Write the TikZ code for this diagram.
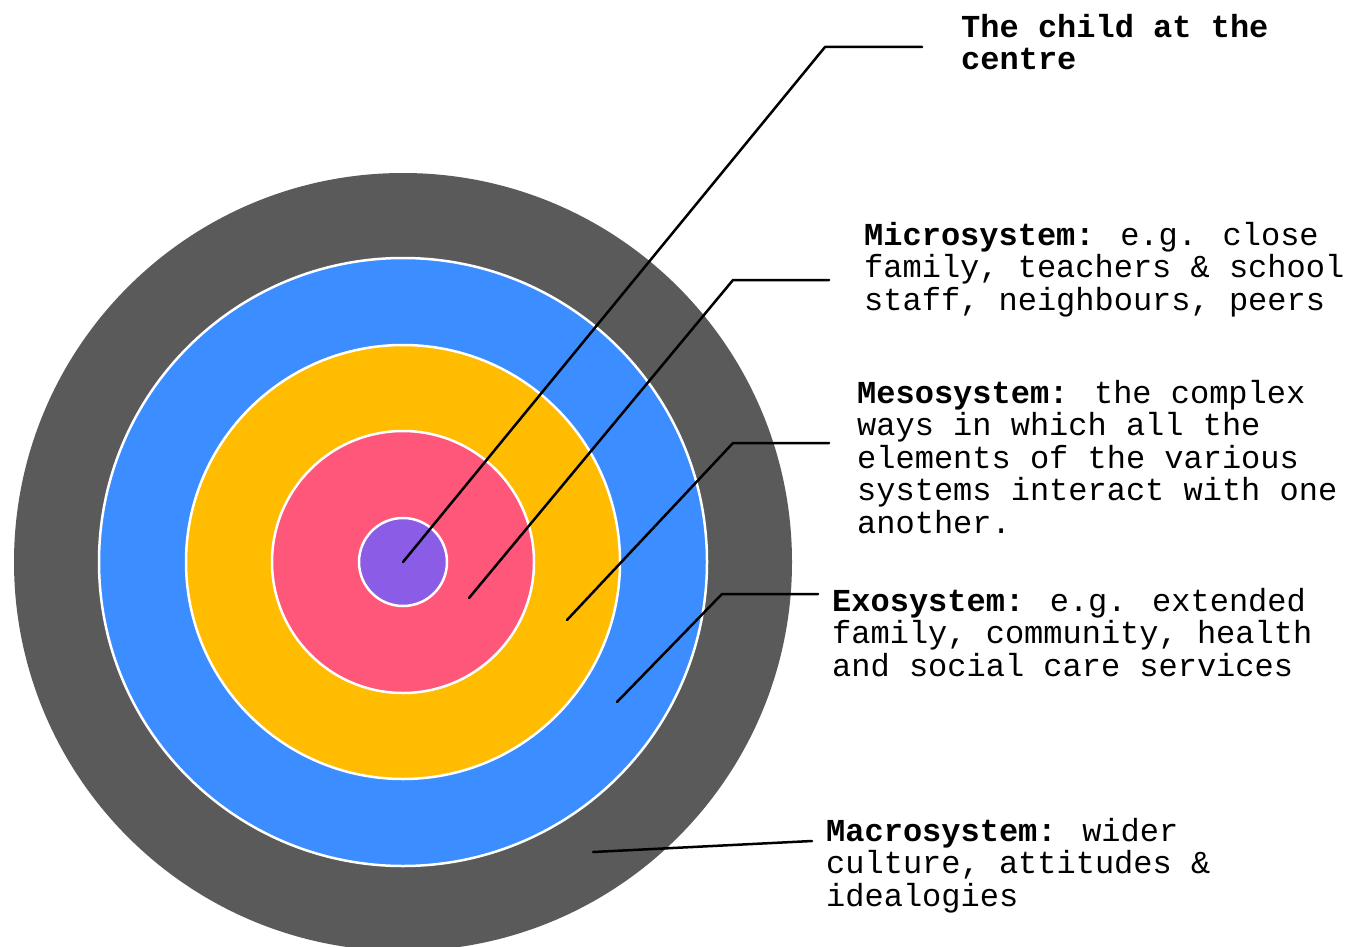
\documentclass[tikz,border=0pt]{standalone}
\usepackage{fontspec}
\newfontfamily\monofont{Liberation Mono}
\definecolor{cgray}{HTML}{5A5A5A}
\definecolor{cblue}{HTML}{3C8DFF}
\definecolor{cyellow}{HTML}{FFBC00}
\definecolor{cpink}{HTML}{FF577A}
\definecolor{cpurple}{HTML}{8B5CE5}
\tikzset{
  ring/.style={circle, draw=white, line width=2.5pt, inner sep=0pt},
  lbl/.style={anchor=base west, align=left, inner sep=0pt,
    font=\fontsize{32}{32.5}\selectfont\monofont},
  leader/.style={line width=2.5pt, line cap=round, line join=round}
}
\begin{document}
\begin{tikzpicture}[x=1pt, y=-1pt]
\useasboundingbox (0,0) rectangle (1359,947);
\fill[white] (0,0) rectangle (1359,947);
\node[ring, draw=none, fill=cgray, minimum size=778pt] (macro) at (403,562) {};
\node[ring, fill=cblue, minimum size=608pt] (exo) at (403,562) {};
\node[ring, fill=cyellow, minimum size=434pt] (meso) at (403,562) {};
\node[ring, fill=cpink, minimum size=262pt] (micro) at (403,562) {};
\node[ring, fill=cpurple, minimum size=88pt] (child) at (403,562) {};

\coordinate (pchild) at (403,562);
\coordinate (pmicro) at (469,598);
\coordinate (pmeso) at (567,620);
\coordinate (pexo) at (617,702);
\coordinate (pmacro) at (593,852);

\coordinate (kchild) at (825,47);
\coordinate (kmicro) at (733,280);
\coordinate (kmeso) at (733,443);
\coordinate (kexo) at (722,594);

\coordinate (echild) at (922,47);
\coordinate (emicro) at (829,280);
\coordinate (emeso) at (829,443);
\coordinate (eexo) at (818,594);
\coordinate (emacro) at (812,841);

\draw[leader] (pchild) -- (kchild) -- (echild);
\draw[leader] (pmicro) -- (kmicro) -- (emicro);
\draw[leader] (pmeso) -- (kmeso) -- (emeso);
\draw[leader] (pexo) -- (kexo) -- (eexo);
\draw[leader] (pmacro) -- (emacro);

\node[lbl] (tchild) at (961,70) {\textbf{The child at the}\\\textbf{centre}};
\node[lbl] (tmicro) at (864,310) {\textbf{Microsystem:} e.g. close\\family, teachers \& school\\staff, neighbours, peers};
\node[lbl] (tmeso) at (857,533) {\textbf{Mesosystem:} the complex\\ways in which all the\\elements of the various\\systems interact with one\\another.};
\node[lbl] (texo) at (832,676) {\textbf{Exosystem:} e.g. extended\\family, community, health\\and social care services};
\node[lbl] (tmacro) at (826,906) {\textbf{Macrosystem:} wider\\culture, attitudes \&\\idealogies};
\end{tikzpicture}
\end{document}
